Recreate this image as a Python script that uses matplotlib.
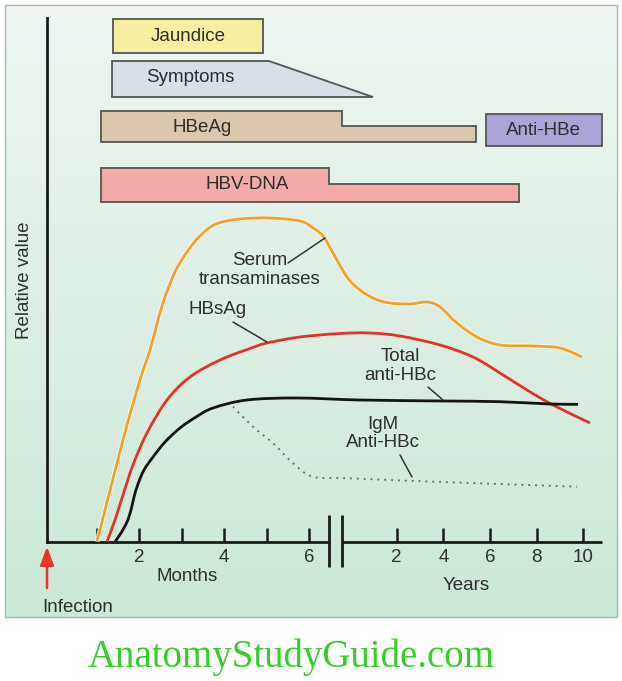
import numpy as np
import matplotlib
matplotlib.use("Agg")
import matplotlib.pyplot as plt
from matplotlib.path import Path
from matplotlib.patches import PathPatch, Polygon, Rectangle
import matplotlib.patheffects as pe

# ---------------- data ----------------
# x axis: months 0..6, axis break, then years 0..10 (compressed)
month_ticks = [1, 2, 3, 4, 5, 6]
month_labels = ["", "2", "", "4", "", "6"]
year_ticks = [2, 4, 6, 8, 10]
year_labels = ["2", "4", "6", "8", "10"]
YEAR0 = 6.957        # axis position (month units) of year 0
YEAR_SCALE = 0.5487  # month units per year
BREAK = (6.47, 6.78)
X_AXIS_END = 12.876
Y_AXIS_TOP = 104.7

# curves: x in axis units (months; compressed years after the break), y = relative value
trans_x = [1.007, 1.618, 2.018, 2.253, 2.441, 2.606, 2.841, 3.123, 3.429, 3.805, 4.370, 5.075,
           5.781, 6.087, 6.322, 6.557, 6.886, 7.190, 7.545, 7.898, 8.368, 8.768, 9.073, 9.473,
           9.944, 10.484, 11.261, 11.896, 12.413]
trans_y = [0.0, 20.34, 32.34, 38.34, 44.34, 48.94, 53.94, 57.94, 61.14, 63.54, 64.54, 64.74,
           64.14, 62.74, 61.14, 57.74, 52.94, 50.34, 48.54, 47.74, 47.54, 47.94, 46.94, 43.74,
           40.94, 39.34, 39.14, 38.74, 36.94]

hbsag_x = [1.242, 1.430, 1.618, 1.853, 2.182, 2.653, 3.194, 3.899, 4.605, 5.005, 5.781, 6.722,
           7.427, 8.133, 9.073, 9.849, 10.484, 11.119, 11.731, 12.601]
hbsag_y = [0.0, 4.34, 9.34, 15.34, 21.74, 28.34, 32.94, 36.34, 38.64, 39.74, 40.94, 41.64,
           41.74, 41.14, 39.34, 36.94, 33.74, 30.34, 27.34, 23.74]

antihbc_x = [1.430, 1.571, 1.712, 1.806, 1.877, 1.971, 2.112, 2.324, 2.606, 2.958, 3.335, 3.735,
             4.534, 5.710, 7.192, 9.144, 10.484, 11.660, 12.319]
antihbc_y = [0.0, 1.74, 3.94, 6.34, 8.94, 11.54, 14.34, 16.94, 19.94, 22.74, 24.94, 26.74,
             28.34, 28.74, 28.34, 28.14, 28.0, 27.54, 27.48]

igm_x = [4.205, 4.675, 5.146, 5.616, 6.087, 6.879, 8.909, 12.296]
igm_y = [27.0, 23.0, 19.7, 15.7, 13.0, 12.7, 12.0, 11.0]

# clinical / serological bars (axis units)
jaundice = (1.385, 4.911)                # start, end
symptoms = (1.36, 5.05, 7.497)           # start, plateau end, taper end
hbeag = (1.10, 6.76, 9.92)               # start, step, end
anti_hbe = (10.155, 12.876)              # start, end
hbv_dna = (1.10, 6.47, 10.93)            # start, step, end

# ---------------- helpers ----------------
def smooth_path(xs, ys):
    pts = np.column_stack([xs, ys])
    n = len(pts)
    verts = [pts[0]]
    codes = [Path.MOVETO]
    for i in range(n - 1):
        p0 = pts[i - 1] if i > 0 else pts[i]
        p1 = pts[i]
        p2 = pts[i + 1]
        p3 = pts[i + 2] if i + 2 < n else pts[i + 1]
        c1 = p1 + (p2 - p0) / 6.0
        c2 = p2 - (p3 - p1) / 6.0
        verts += [c1, c2, p2]
        codes += [Path.CURVE4] * 3
    return Path(verts, codes)

FONT = ["Liberation Sans", "DejaVu Sans"]
FS = 13.5
TXT = "#2e2e2e"
EDGE = "#555555"

fig = plt.figure(figsize=(6.22, 6.81), dpi=100)
fig.patch.set_facecolor("white")
ax = fig.add_axes([0, 0, 1, 1])
ax.set_xlim(-1.2747, 13.354)
ax.set_ylim(-27.86, 108.34)
ax.patch.set_visible(False)

# background panel gradient
grad = np.linspace(0, 1, 256)[:, None]
top = np.array([0.935, 0.965, 0.945])
bot = np.array([0.80, 0.91, 0.84])
img = top[None, None, :] * (1 - grad[..., None]) + bot[None, None, :] * grad[..., None]
img = np.repeat(img, 2, axis=1)
ax.imshow(img, extent=(-1.157, 13.236, -15.06, 107.34), aspect="auto", zorder=0,
          interpolation="bilinear")
ax.add_patch(Rectangle((-1.157, -15.06), 14.393, 122.4, fill=False, ec="#9dbfa6", lw=1.0, zorder=1))

# axes lines
for s in ["top", "right"]:
    ax.spines[s].set_visible(False)
ax.spines["left"].set_position(("data", -0.169))
ax.spines["left"].set_bounds(0, Y_AXIS_TOP)
ax.spines["bottom"].set_position(("data", 0))
ax.spines["bottom"].set_bounds(-0.169, BREAK[0])
for s in ["left", "bottom"]:
    ax.spines[s].set_linewidth(2.0)
    ax.spines[s].set_color("#1a1a1a")
    ax.spines[s].set_zorder(4)
ax.plot([BREAK[1], X_AXIS_END], [0, 0], color="#1a1a1a", lw=2.0, solid_capstyle="butt",
        clip_on=False, zorder=4)
ax.vlines(BREAK, -5.06, 5.34, color="#1a1a1a", lw=2.0, zorder=4)

ax.set_yticks([])
xt = list(month_ticks) + [YEAR0 + YEAR_SCALE * y for y in year_ticks]
ax.set_xticks(xt)
ax.set_xticklabels(month_labels + year_labels, fontfamily=FONT, fontsize=FS, color=TXT)
ax.tick_params(axis="x", direction="in", length=10, width=1.8, color="#1a1a1a", pad=5)

ax.text(3.116, -7.0, "Months", ha="center", va="center", fontfamily=FONT, fontsize=FS, color=TXT)
ax.text(9.685, -8.66, "Years", ha="center", va="center", fontfamily=FONT, fontsize=FS, color=TXT)
ax.text(0.548, -13.26, "Infection", ha="center", va="center", fontfamily=FONT, fontsize=FS, color=TXT)
ax.text(-0.687, 52.34, "Relative value", rotation=90, ha="center", va="center",
        fontfamily=FONT, fontsize=FS, color=TXT)
ax.annotate("", xy=(-0.169, -1.0), xytext=(-0.169, -9.26),
            arrowprops=dict(arrowstyle="-|>,head_width=0.3,head_length=0.8", color="#e8352b",
                            lw=1.8, mutation_scale=14, shrinkA=0, shrinkB=0), zorder=5)

# bars
def box(x0, x1, y0, y1, fc):
    ax.add_patch(Rectangle((x0, y0), x1 - x0, y1 - y0, fc=fc, ec=EDGE, lw=1.3, zorder=3))

box(jaundice[0], jaundice[1], 97.74, 104.54, "#f6ef9f")
ax.add_patch(Polygon([(symptoms[0], 88.94), (symptoms[0], 96.14), (symptoms[1], 96.14),
                      (symptoms[2], 88.94)], closed=True, fc="#d7dfe7", ec=EDGE, lw=1.3, zorder=3))
ax.add_patch(Polygon([(hbeag[0], 79.99), (hbeag[0], 86.2), (hbeag[1], 86.2), (hbeag[1], 83.14),
                      (hbeag[2], 83.14), (hbeag[2], 79.99)], closed=True, fc="#dbc6b0", ec=EDGE,
                     lw=1.3, zorder=3))
box(anti_hbe[0], anti_hbe[1], 79.2, 85.54, "#aaa5d7")
ax.add_patch(Polygon([(hbv_dna[0], 67.88), (hbv_dna[0], 74.68), (hbv_dna[1], 74.68),
                      (hbv_dna[1], 71.48), (hbv_dna[2], 71.48), (hbv_dna[2], 67.88)], closed=True,
                     fc="#f3aaa8", ec=EDGE, lw=1.3, zorder=3))

for (tx, ty, s) in [(3.147, 100.94, "Jaundice"), (3.194, 92.74, "Symptoms"), (3.476, 82.94, "HBeAg"),
                    (11.496, 82.14, "Anti-HBe"), (4.534, 71.34, "HBV-DNA")]:
    ax.text(tx, ty, s, ha="center", va="center", fontfamily=FONT, fontsize=FS, color=TXT, zorder=4)

# curves
ax.add_patch(PathPatch(smooth_path(trans_x, trans_y), fill=False, ec="#f0a22c", lw=2.0, zorder=5,
                       path_effects=[pe.Stroke(linewidth=3.4, foreground="#f4f8f2", alpha=0.85),
                                     pe.Normal()]))
ax.add_patch(PathPatch(smooth_path(hbsag_x, hbsag_y), fill=False, ec="#e3322a", lw=2.0, zorder=5))
ax.add_patch(PathPatch(smooth_path(antihbc_x, antihbc_y), fill=False, ec="#141414", lw=2.0, zorder=5))
ax.add_patch(PathPatch(smooth_path(igm_x, igm_y), fill=False, ec="#666666", lw=1.3,
                       linestyle=(0, (1, 2.8)), zorder=5))

# curve labels with leader lines
def label(tx, ty, s, p0, p1):
    ax.text(tx, ty, s, ha="center", va="center", fontfamily=FONT, fontsize=FS, color=TXT,
            linespacing=1.15, zorder=6)
    ax.annotate("", xy=p1, xytext=p0,
                arrowprops=dict(arrowstyle="-", color="#333333", lw=1.1, shrinkA=0, shrinkB=0),
                zorder=6)

label(4.840, 54.34, "Serum\ntransaminases", (5.498, 55.74), (6.369, 60.74))
label(3.852, 46.34, "HBsAg", (4.205, 43.94), (5.005, 39.94))
label(8.133, 35.14, "Total\nanti-HBc", (8.791, 30.94), (9.144, 28.34))
label(7.733, 21.64, "IgM\nAnti-HBc", (8.133, 17.34), (8.415, 12.94))

fig.text(0.468, 0.0352, "AnatomyStudyGuide.com", ha="center", va="center",
         fontfamily=["Liberation Serif", "DejaVu Serif"], fontsize=28, color="#38cc2c")

fig.savefig("out.png", dpi=100)
